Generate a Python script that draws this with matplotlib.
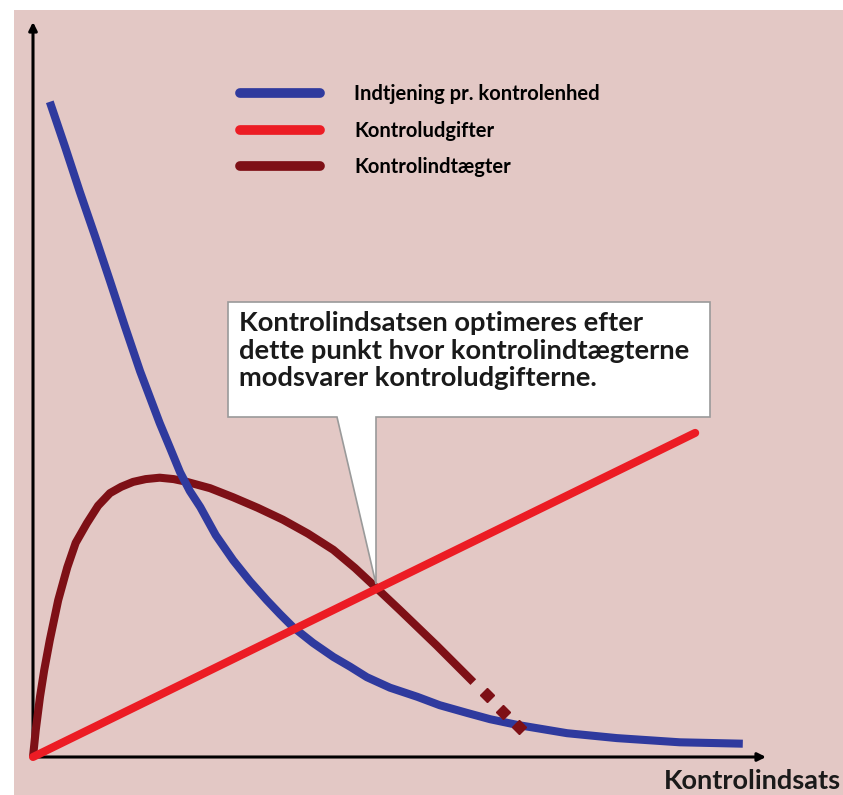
import matplotlib
matplotlib.use("Agg")
import matplotlib.pyplot as plt
from matplotlib.patches import Polygon, Rectangle
from matplotlib.lines import Line2D

# ---------------- data ----------------
blue_x = [0.24, 0.46, 0.67, 0.89, 1.10, 1.31, 1.53, 1.67, 1.81, 1.96, 2.10, 2.24, 2.39,
          2.61, 2.86, 3.10, 3.34, 3.53, 3.71, 4.00, 4.29, 4.53, 4.77, 5.10, 5.49, 5.81,
          6.20, 6.53, 6.91, 7.63, 8.34, 9.24, 10.14]
blue_y = [9.36, 8.71, 8.07, 7.43, 6.80, 6.16, 5.51, 5.14, 4.77, 4.41, 4.07, 3.80, 3.57,
          3.17, 2.81, 2.51, 2.24, 2.04, 1.86, 1.63, 1.43, 1.29, 1.14, 0.99, 0.86, 0.74,
          0.63, 0.54, 0.46, 0.34, 0.27, 0.21, 0.19]

red_x = [0.0, 9.46]
red_y = [0.0, 4.63]

dark_x = [0.0, 0.04, 0.10, 0.16, 0.24, 0.36, 0.49, 0.61, 0.77, 0.93, 1.10, 1.26, 1.43,
          1.61, 1.81, 2.01, 2.20, 2.53, 2.86, 3.21, 3.57, 3.93, 4.29, 4.60, 4.89, 5.24,
          5.77, 6.29]
dark_y = [0.0, 0.39, 0.86, 1.24, 1.67, 2.24, 2.71, 3.06, 3.34, 3.59, 3.77, 3.86, 3.93,
          3.97, 3.99, 3.97, 3.93, 3.84, 3.71, 3.56, 3.39, 3.19, 2.96, 2.70, 2.43, 2.10,
          1.59, 1.07]
dark_dot_x = [6.49, 6.71, 6.94]
dark_dot_y = [0.89, 0.64, 0.43]

labels = ["Indtjening pr. kontrolenhed", "Kontroludgifter", "Kontrolindtægter"]
callout_text = ("Kontrolindsatsen optimeres efter\n"
                "dette punkt hvor kontrolindtægterne\n"
                "modsvarer kontroludgifterne.")
xlabel_text = "Kontrolindsats"

# ---------------- style ----------------
BG = "#E3C8C5"
BLUE = "#2F3A9E"
RED = "#EC1C24"
DARK = "#7E1016"
W, H = 843, 795

fig = plt.figure(figsize=(W / 100, H / 100), dpi=100, facecolor="white")
ax = fig.add_axes([0, 0, 1, 1])
ax.set_facecolor("white")
ox, oy, unit = 33, 757, 70.0
ax.set_xlim(-ox / unit, (W - ox) / unit)
ax.set_ylim(-(H - oy) / unit, oy / unit)
ax.axis("off")

def px(x, y):
    """pixel position -> axes fraction"""
    return (x / W, 1 - y / H)

# pink panel
ax.add_patch(Rectangle(px(14, 795), (W - 14) / W, (795 - 10) / H,
                       transform=ax.transAxes, facecolor=BG, edgecolor="none", zorder=0))

# axes arrows
ax.annotate("", xy=(0, (oy - 22) / unit), xytext=(0, -0.02),
            arrowprops=dict(arrowstyle="-|>", lw=2.2, color="black", mutation_scale=12,
                            shrinkA=0, shrinkB=0), zorder=2)
ax.annotate("", xy=((766 - ox) / unit, 0), xytext=(-0.02, 0),
            arrowprops=dict(arrowstyle="-|>", lw=2.2, color="black", mutation_scale=12,
                            shrinkA=0, shrinkB=0), zorder=2)

lw = 5.8
ax.plot(dark_x, dark_y, color=DARK, lw=lw, solid_capstyle="butt",
        solid_joinstyle="round", zorder=3)
ax.plot(dark_dot_x, dark_dot_y, ls="none", marker="D", ms=7.5, color=DARK, zorder=5)
ax.plot(blue_x, blue_y, color=BLUE, lw=lw, solid_capstyle="butt",
        solid_joinstyle="round", zorder=4)
ax.plot(red_x, red_y, color=RED, lw=lw, solid_capstyle="round", zorder=4)

# legend
handles = [Line2D([], [], color=c, lw=7, solid_capstyle="round") for c in (BLUE, RED, DARK)]
leg = ax.legend(handles, labels, loc="upper left", bbox_to_anchor=px(222, 66),
                bbox_transform=ax.transAxes, frameon=False, handlelength=3.95,
                handletextpad=1.7, labelspacing=0.82,
                prop=dict(family="Lato", weight="bold", size=14.5))

# callout
box = [(228, 302), (710, 302), (710, 417), (376, 417), (376, 584), (337, 417), (228, 417)]
ax.add_patch(Polygon([px(*p) for p in box], closed=True, transform=ax.transAxes,
                     facecolor="white", edgecolor="#9A9A9A", lw=1.2, zorder=6))
ax.text(*px(239, 311), callout_text, transform=ax.transAxes, ha="left", va="top",
        family="Lato", weight="bold", size=19.7, color="#1A1A1A", linespacing=1.18, zorder=7)

# x label
ax.text(*px(664, 781), xlabel_text, transform=ax.transAxes, ha="left", va="center",
        family="Lato", weight="bold", size=19.5, color="#1A1A1A", zorder=7)

fig.savefig("out.png", dpi=100, facecolor="white")
